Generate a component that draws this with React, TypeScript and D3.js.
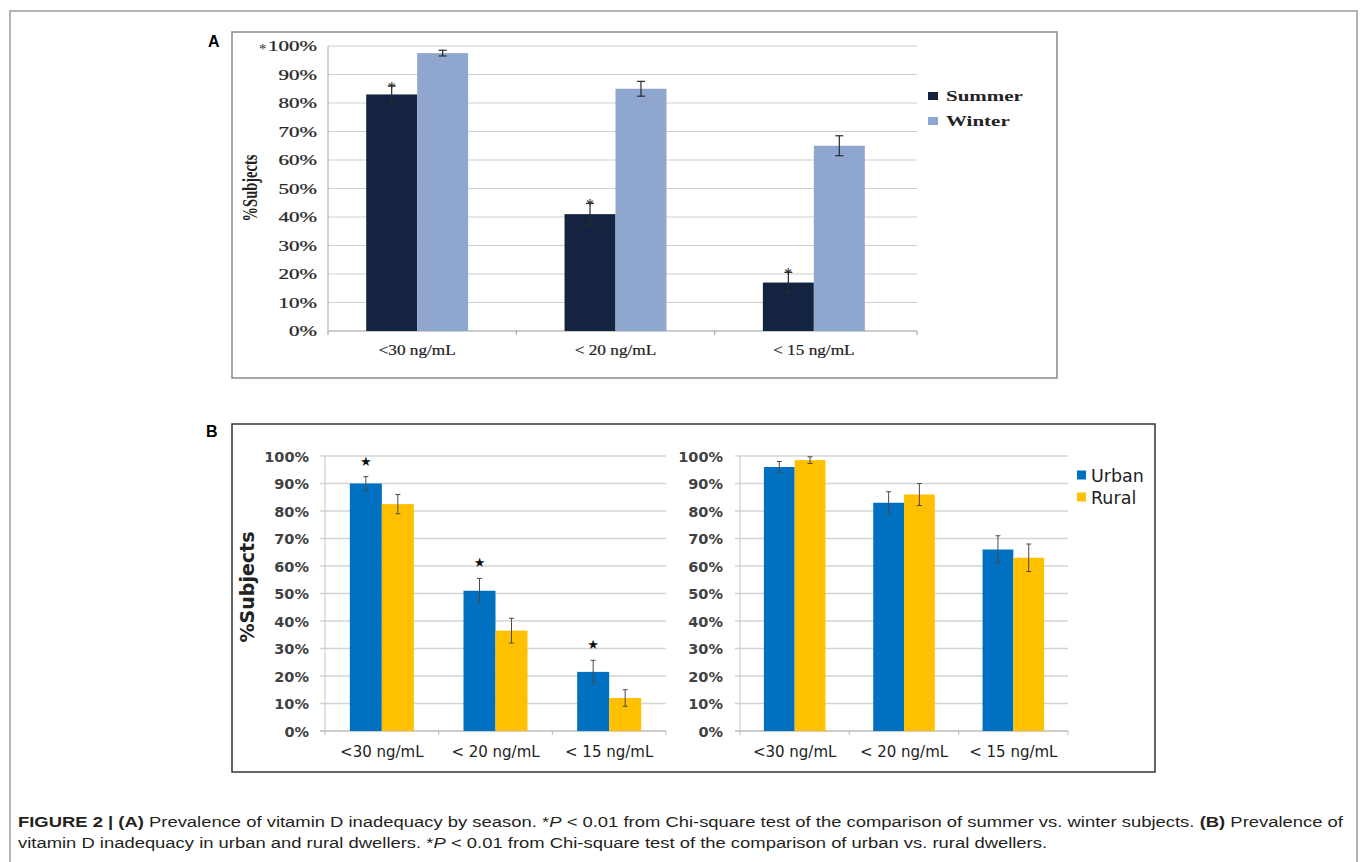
import React, { useRef, useEffect } from 'react';
import * as d3 from 'd3';

// ---- data ----
const categories = ["<30 ng/mL", "< 20 ng/mL", "< 15 ng/mL"];
const yTicks = [0, 10, 20, 30, 40, 50, 60, 70, 80, 90, 100];

// panel A: season
const seasonSeries = ["Summer", "Winter"];
const summerValues = [83, 41, 17];
const summerErrors = [3, 3.8, 3.6];
const winterValues = [97.5, 85, 65];
const winterErrors = [1, 2.6, 3.5];
const seasonSignificant = [true, true, true];

// panel B: urban vs rural (left and right sub-charts)
const areaSeries = ["Urban", "Rural"];
const urbanLeftValues = [90, 51, 21.5];
const urbanLeftErrors = [2.5, 4.5, 4.2];
const ruralLeftValues = [82.5, 36.5, 12];
const ruralLeftErrors = [3.5, 4.5, 3];
const areaLeftSignificant = [true, true, true];
const urbanRightValues = [96, 83, 66];
const urbanRightErrors = [2, 4, 5];
const ruralRightValues = [98.5, 86, 63];
const ruralRightErrors = [1.2, 4, 5];

// caption, split into styled runs (b = bold, i = italic, n = normal)
const captionLines: [string, string][][] = [
    [['b', 'FIGURE 2 | (A)'], ['n', ' Prevalence of vitamin D inadequacy by season. *'], ['i', 'P'],
     ['n', ' < 0.01 from Chi-square test of the comparison of summer vs. winter subjects. '], ['b', '(B)'], ['n', ' Prevalence of']],
    [['n', 'vitamin D inadequacy in urban and rural dwellers. *'], ['i', 'P'],
     ['n', ' < 0.01 from Chi-square test of the comparison of urban vs. rural dwellers.']],
];

const SERIF = "'Liberation Serif', 'Times New Roman', serif";
const SANS = "'DejaVu Sans', Verdana, sans-serif";
const ARIAL = "'Liberation Sans', Arial, sans-serif";

type Row = { cat: string; key: string; value: number; err: number; star: boolean };

function buildRows(series: string[], vals: number[][], errs: number[][], stars: boolean[]): Row[] {
    const rows: Row[] = [];
    categories.forEach((c, i) => {
        series.forEach((s, j) => {
            rows.push({ cat: c, key: s, value: vals[j][i], err: errs[j][i], star: j === 0 && stars[i] });
        });
    });
    return rows;
}

export default function App() {
    const ref = useRef<SVGSVGElement>(null);

    useEffect(() => {
        drawFigure();
    }, []);

    const drawFigure = () => {
        const svg = d3.select(ref.current);
        svg.selectAll('*').remove();

        // helper for the horizontally stretched text of the scanned figure
        const stretched = (g: any, x: number, y: number, str: string, sx: number, rot = 0) =>
            g.append('text')
                .attr('transform', `translate(${x},${y}) scale(${sx},1)` + (rot ? ` rotate(${rot})` : ''))
                .text(str);

        // outer frame
        svg.append('path')
            .attr('d', 'M10,875 V11 H1357 V875')
            .attr('fill', 'none')
            .attr('stroke', '#9a9a9a')
            .attr('stroke-width', 1.5);

        // ================= PANEL A =================
        const gA = svg.append('g');
        gA.append('rect')
            .attr('x', 232).attr('y', 32).attr('width', 825).attr('height', 346)
            .attr('fill', 'none').attr('stroke', '#8a8a8a').attr('stroke-width', 1.5);
        gA.append('text')
            .attr('x', 208).attr('y', 47)
            .style('font-family', ARIAL).style('font-weight', 'bold').style('font-size', '16px')
            .text('A');

        const yA = d3.scaleLinear().domain([0, 100]).range([331, 46]);
        const xA = d3.scaleBand().domain(categories).range([318, 913]).paddingInner(0.486).paddingOuter(0.243);
        const xA1 = d3.scaleBand().domain(seasonSeries).range([0, xA.bandwidth()]);
        const colorA = d3.scaleOrdinal<string>().domain(seasonSeries).range(['#14233f', '#8fa6cf']);

        gA.selectAll('line.grid')
            .data(yTicks.filter(t => t > 0))
            .enter().append('line')
            .attr('x1', 328).attr('x2', 917)
            .attr('y1', d => yA(d)).attr('y2', d => yA(d))
            .attr('stroke', '#cfcfcf').attr('stroke-width', 1.2);
        gA.append('line').attr('x1', 328).attr('x2', 328).attr('y1', yA(100)).attr('y2', yA(0))
            .attr('stroke', '#a8a8a8');
        gA.append('line').attr('x1', 328).attr('x2', 917).attr('y1', yA(0)).attr('y2', yA(0))
            .attr('stroke', '#9a9a9a').attr('stroke-width', 1.2);
        const stepA = xA.step();
        d3.range(categories.length + 1).forEach(i => {
            const tx = i === categories.length ? 917 : (i === 0 ? 328 : 318 + i * stepA);
            gA.append('line').attr('x1', tx).attr('x2', tx).attr('y1', yA(0)).attr('y2', yA(0) + 4)
                .attr('stroke', '#9a9a9a');
        });

        const yLabA = gA.append('g')
            .style('font-family', SERIF).style('font-size', '14px').style('fill', '#262626')
            .style('stroke', '#262626').style('stroke-width', 0.25)
            .attr('text-anchor', 'end');
        yTicks.forEach(t => stretched(yLabA, 317, yA(t) + 5, t + '%', 1.5));
        gA.append('text').attr('x', 259).attr('y', yA(100) + 8)
            .style('font-family', SERIF).style('font-size', '15px').style('fill', '#333').text('*');

        const xLabA = gA.append('g')
            .style('font-family', SERIF).style('font-size', '15px').style('fill', '#222')
            .style('stroke', '#222').style('stroke-width', 0.2)
            .attr('text-anchor', 'middle');
        categories.forEach(c => stretched(xLabA, xA(c)! + xA.bandwidth() / 2, 355, c, 1.15));

        const yTitleA = gA.append('g')
            .style('font-family', SERIF).style('font-size', '14.5px').style('font-weight', 'bold').style('fill', '#222')
            .attr('text-anchor', 'middle');
        stretched(yTitleA, 257, 188, '%Subjects', 1.45, -90);

        const rowsA = buildRows(seasonSeries, [summerValues, winterValues], [summerErrors, winterErrors], seasonSignificant);
        const barX = (r: Row) => xA(r.cat)! + xA1(r.key)!;
        gA.selectAll('rect.bar')
            .data(rowsA).enter().append('rect')
            .attr('class', 'bar')
            .attr('x', barX)
            .attr('y', d => yA(d.value))
            .attr('width', xA1.bandwidth())
            .attr('height', d => yA(0) - yA(d.value))
            .attr('fill', d => colorA(d.key));
        const errA = gA.selectAll('g.err').data(rowsA).enter().append('g')
            .attr('stroke', '#2a2a2a').attr('stroke-width', 1.2);
        errA.append('line')
            .attr('x1', d => barX(d) + xA1.bandwidth() / 2).attr('x2', d => barX(d) + xA1.bandwidth() / 2)
            .attr('y1', d => yA(d.value + d.err)).attr('y2', d => yA(d.value - d.err));
        [1, -1].forEach(s => {
            errA.append('line')
                .attr('x1', d => barX(d) + xA1.bandwidth() / 2 - 4).attr('x2', d => barX(d) + xA1.bandwidth() / 2 + 4)
                .attr('y1', d => yA(d.value + s * d.err)).attr('y2', d => yA(d.value + s * d.err));
        });
        gA.selectAll('text.star')
            .data(rowsA.filter(r => r.star)).enter().append('text')
            .attr('x', d => barX(d) + xA1.bandwidth() / 2)
            .attr('y', d => yA(d.value + d.err) + 7)
            .attr('text-anchor', 'middle')
            .style('font-family', SERIF).style('font-size', '16px').style('fill', '#222')
            .text('*');

        const legA = gA.append('g');
        seasonSeries.forEach((s, i) => {
            const ly = 96 + i * 25;
            legA.append('rect').attr('x', 928).attr('y', ly - 4).attr('width', 10).attr('height', 8)
                .attr('fill', colorA(s));
            const lt = legA.append('g').style('font-family', SERIF).style('font-size', '15px')
                .style('font-weight', 'bold').style('fill', '#222');
            stretched(lt, 946, ly + 5, s, 1.4);
        });

        // ================= PANEL B =================
        const gB = svg.append('g');
        gB.append('rect')
            .attr('x', 232).attr('y', 424).attr('width', 923).attr('height', 348)
            .attr('fill', 'none').attr('stroke', '#333').attr('stroke-width', 1.5);
        gB.append('text')
            .attr('x', 206).attr('y', 437)
            .style('font-family', ARIAL).style('font-weight', 'bold').style('font-size', '16px')
            .text('B');

        const yB = d3.scaleLinear().domain([0, 100]).range([731, 456]);
        const colorB = d3.scaleOrdinal<string>().domain(areaSeries).range(['#0070c0', '#ffc000']);

        const drawSub = (x0: number, x1: number, labelX: number, vals: number[][], errs: number[][], stars: boolean[]) => {
            const g = gB.append('g');
            const xB = d3.scaleBand().domain(categories).range([x0, x1]).paddingInner(0.437).paddingOuter(0.2185);
            const xB1 = d3.scaleBand().domain(areaSeries).range([0, xB.bandwidth()]);

            g.selectAll('line.grid').data(yTicks.filter(t => t > 0)).enter().append('line')
                .attr('x1', x0 - 5).attr('x2', x1)
                .attr('y1', d => yB(d)).attr('y2', d => yB(d))
                .attr('stroke', '#d4d4d4').attr('stroke-width', 1.3);
            g.append('line').attr('x1', x0).attr('x2', x0).attr('y1', yB(100)).attr('y2', yB(0))
                .attr('stroke', '#c4c4c4');
            g.append('line').attr('x1', x0 - 5).attr('x2', x1).attr('y1', yB(0)).attr('y2', yB(0))
                .attr('stroke', '#bdbdbd').attr('stroke-width', 1.3);
            d3.range(categories.length + 1).forEach(i => {
                const tx = x0 + i * xB.step();
                g.append('line').attr('x1', tx).attr('x2', tx).attr('y1', yB(0)).attr('y2', yB(0) + 4)
                    .attr('stroke', '#bdbdbd');
            });

            g.append('g').attr('text-anchor', 'end')
                .style('font-family', SANS).style('font-size', '14.5px').style('font-weight', 'bold').style('fill', '#424242')
                .selectAll('text').data(yTicks).enter().append('text')
                .attr('x', labelX).attr('y', d => yB(d) + 5.5)
                .text(d => d + '%');
            g.append('g').attr('text-anchor', 'middle')
                .style('font-family', SANS).style('font-size', '15px').style('fill', '#222')
                .selectAll('text').data(categories).enter().append('text')
                .attr('x', d => xB(d)! + xB.bandwidth() / 2).attr('y', 757)
                .text(d => d);

            const rows = buildRows(areaSeries, vals, errs, stars);
            const bx = (r: Row) => xB(r.cat)! + xB1(r.key)!;
            const cx = (r: Row) => bx(r) + xB1.bandwidth() / 2;
            g.selectAll('rect.bar').data(rows).enter().append('rect')
                .attr('x', bx).attr('y', d => yB(d.value))
                .attr('width', xB1.bandwidth())
                .attr('height', d => yB(0) - yB(d.value))
                .attr('fill', d => colorB(d.key));
            const eg = g.selectAll('g.err').data(rows).enter().append('g')
                .attr('stroke', '#4a4a4a').attr('stroke-width', 1);
            eg.append('line').attr('x1', cx).attr('x2', cx)
                .attr('y1', d => yB(d.value + d.err)).attr('y2', d => yB(d.value - d.err));
            [1, -1].forEach(s => {
                eg.append('line').attr('x1', d => cx(d) - 2.5).attr('x2', d => cx(d) + 2.5)
                    .attr('y1', d => yB(d.value + s * d.err)).attr('y2', d => yB(d.value + s * d.err));
            });
            g.selectAll('text.star').data(rows.filter(r => r.star)).enter().append('text')
                .attr('x', cx).attr('y', d => yB(d.value + d.err) - 11)
                .attr('text-anchor', 'middle')
                .style('font-family', SANS).style('font-size', '13px').style('fill', '#111')
                .text('\u2605');
        };

        drawSub(325, 666, 309, [urbanLeftValues, ruralLeftValues], [urbanLeftErrors, ruralLeftErrors], areaLeftSignificant);
        drawSub(740, 1068, 723, [urbanRightValues, ruralRightValues], [urbanRightErrors, ruralRightErrors], [false, false, false]);

        gB.append('text')
            .attr('transform', 'translate(254,587) rotate(-90)')
            .attr('text-anchor', 'middle')
            .style('font-family', SANS).style('font-size', '19px').style('font-weight', 'bold').style('fill', '#222')
            .text('%Subjects');

        areaSeries.forEach((s, i) => {
            const ly = 475 + i * 22;
            gB.append('rect').attr('x', 1077).attr('y', ly - 4.5).attr('width', 9).attr('height', 9)
                .attr('fill', colorB(s));
            gB.append('text').attr('x', 1091).attr('y', ly + 6.5)
                .style('font-family', SANS).style('font-size', '17.5px').style('fill', '#222')
                .text(s);
        });

        // ================= CAPTION =================
        // each run is its own text element, placed after measuring the previous one;
        // the narrow caption face is imitated by squeezing the whole line horizontally
        const lineGroups: any[] = [];
        const lineWidths: number[] = [];
        captionLines.forEach((parts, li) => {
            const lg = svg.append('g')
                .style('font-family', ARIAL).style('font-size', '15.5px').style('fill', '#231f20');
            let cx = 0;
            parts.forEach(([k, str]) => {
                const t = lg.append('text')
                    .attr('x', cx).attr('y', 0)
                    .style('white-space', 'pre')
                    .style('font-weight', k === 'b' ? 'bold' : 'normal')
                    .style('font-style', k === 'i' ? 'italic' : 'normal')
                    .text(str);
                cx += (t.node() as SVGTextElement).getComputedTextLength();
            });
            lineGroups.push(lg);
            lineWidths.push(cx);
        });
        const sx = 1325 / lineWidths[0];
        lineGroups.forEach((lg, li) => {
            lg.attr('transform', `translate(18,${827 + li * 21}) scale(${sx},1)`);
        });
    };

    return (
        <svg ref={ref} width={1360} height={862}
            style={{ position: 'absolute', left: 0, top: 0, background: '#fff' }} />
    );
}
